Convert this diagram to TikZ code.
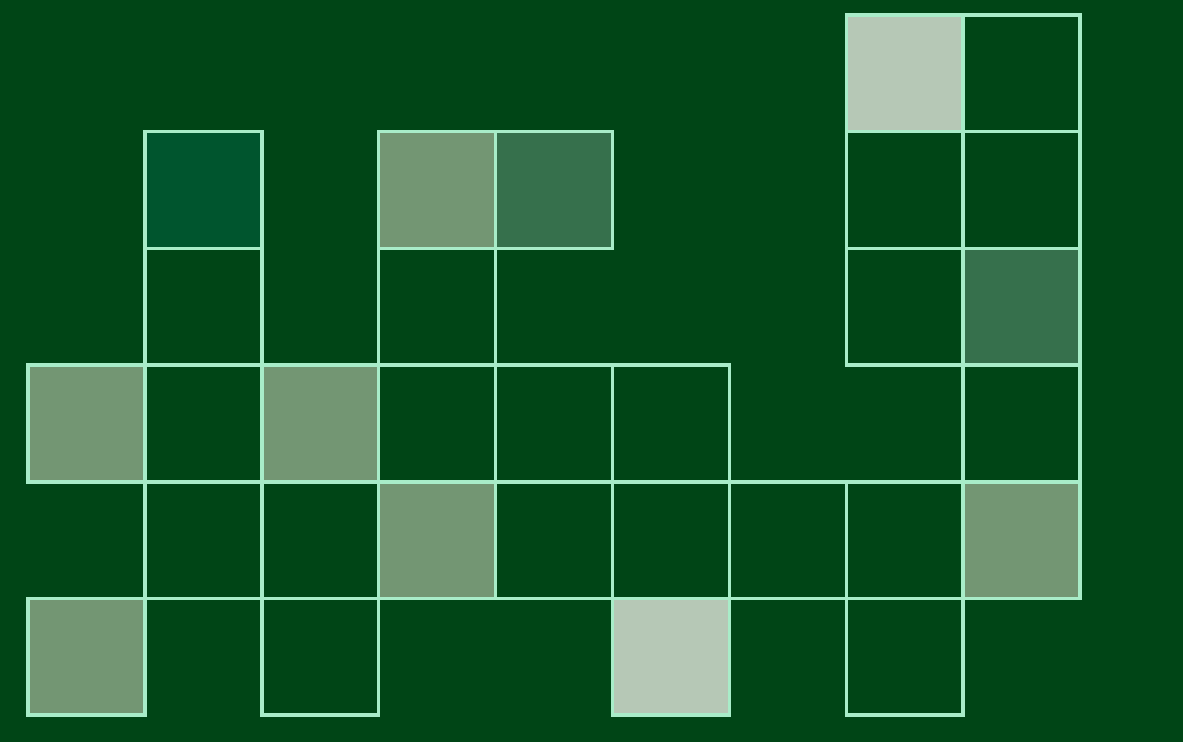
\documentclass[tikz,border=0pt]{standalone}
\definecolor{bg}{HTML}{004516}
\definecolor{edge}{HTML}{A8ECC8}
\definecolor{dk}{HTML}{004516}
\definecolor{dg}{HTML}{00552E}
\definecolor{mg}{HTML}{36704C}
\definecolor{gy}{HTML}{739673}
\definecolor{lt}{HTML}{B6C8B6}
\tikzset{cellfill/.style={draw=none},cellline/.style={draw=edge,line width=2pt,line join=miter}}
\begin{document}
\begin{tikzpicture}[x=0.02cm,y=0.02cm]
\fill[bg] (0,0) rectangle (1183,742);
\useasboundingbox (0,0) rectangle (1183,742);
\def\cellist{7/0/lt,8/0/dk,1/1/dg,3/1/gy,4/1/mg,7/1/dk,8/1/dk,1/2/dk,3/2/dk,7/2/dk,8/2/mg,0/3/gy,1/3/dk,2/3/gy,3/3/dk,4/3/dk,5/3/dk,8/3/dk,1/4/dk,2/4/dk,3/4/gy,4/4/dk,5/4/dk,6/4/dk,7/4/dk,8/4/gy,0/5/gy,2/5/dk,5/5/lt,7/5/dk}
\foreach \c/\r/\f in \cellist {
  \fill[cellfill,fill=\f] ({28+\c*116.9},{727-\r*116.7}) rectangle ({28+(\c+1)*116.9},{727-(\r+1)*116.7});
}
\foreach \c/\r/\f in \cellist {
  \draw[cellline] ({28+\c*116.9},{727-\r*116.7}) rectangle ({28+(\c+1)*116.9},{727-(\r+1)*116.7});
}
\end{tikzpicture}
\end{document}
